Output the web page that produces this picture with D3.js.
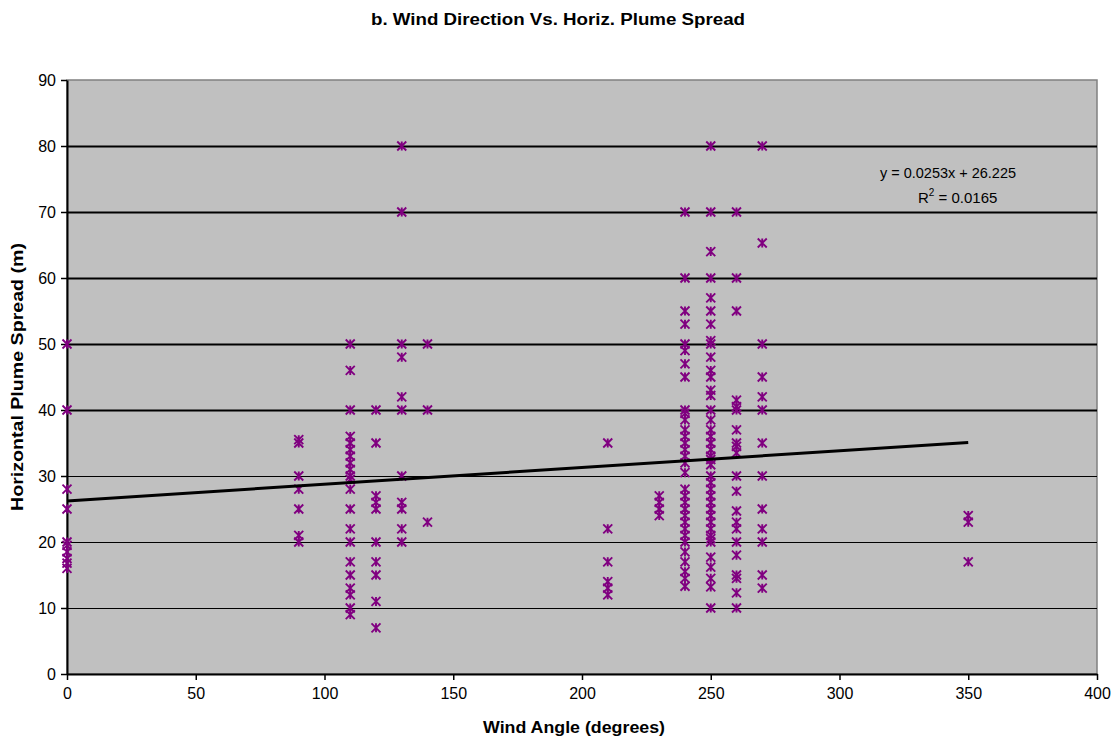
<!DOCTYPE html>
<html>
<head>
<meta charset="utf-8">
<script src="https://cdn.jsdelivr.net/npm/d3@7"></script>
<style>
  html, body { margin: 0; padding: 0; background: #fff; }
  svg { display: block; font-family: "Liberation Sans", Arial, sans-serif; }
</style>
</head>
<body>
<svg id="chart" width="1115" height="743"></svg>
<script>
// Wind angles observed (degrees) and the plume spreads measured at each angle (m)
const windAngles = [0, 90, 110, 120, 130, 140, 210, 230, 240, 250, 260, 270, 350];
const spreadAt0   = [50, 40, 28, 25, 20, 19.5, 18.5, 17.5, 16.8, 16];
const spreadAt90  = [35.5, 35, 30, 28, 25, 21, 20];
const spreadAt110 = [50, 46, 40, 36, 35, 34, 33, 32, 31, 30, 29.5, 28, 25, 22, 20, 17, 15, 13, 12, 10, 9];
const spreadAt120 = [40, 35, 27, 26, 25, 20, 17, 15, 11, 7];
const spreadAt130 = [80, 70, 50, 48, 42, 40, 30, 26, 25, 22, 20];
const spreadAt140 = [50, 40, 23];
const spreadAt210 = [35, 22, 17, 14, 13, 12];
const spreadAt230 = [27, 26, 25, 24];
const spreadAt240 = [70, 60, 55, 53, 50, 49, 47, 45, 40, 39.5, 38.5, 37, 36, 35, 34, 33, 32, 30.5,
                     28, 27, 26, 25, 24, 23, 22, 21, 20, 18.5, 17, 15.5, 14.5, 13.3];
const spreadAt250 = [80, 70, 64, 60, 57, 55, 53, 50.5, 50, 48, 46, 45, 43, 42.2, 40, 38.5, 37, 36,
                     35, 34, 33, 32.5, 31.7, 30, 29, 28, 27, 26, 25, 24, 23, 22, 21, 20.5, 20,
                     17.7, 16.2, 14.5, 13.2, 10];
const spreadAt260 = [70, 60, 55, 41.5, 40.5, 40, 37, 35, 34.5, 33.5, 30, 27.7, 24.7, 23, 22, 20, 18, 15, 14.5, 12.3, 10];
const spreadAt270 = [80, 65.3, 50, 45, 42, 40, 35, 30, 25, 22, 20, 15, 13];
const spreadAt350 = [24, 23, 17];
const spreadByAngle = [spreadAt0, spreadAt90, spreadAt110, spreadAt120, spreadAt130, spreadAt140,
                       spreadAt210, spreadAt230, spreadAt240, spreadAt250, spreadAt260, spreadAt270, spreadAt350];

// Linear trend as reported by the fit
const trendSlope = 0.0253;
const trendIntercept = 26.225;
const trendR2 = "0.0165";
const trendRange = [0, 350];

const xTicks = [0, 50, 100, 150, 200, 250, 300, 350, 400];
const yTicks = [0, 10, 20, 30, 40, 50, 60, 70, 80, 90];

const svg = d3.select("#chart");
const plot = { left: 67, right: 1097, top: 80, bottom: 674 };

const x = d3.scaleLinear().domain([0, 400]).range([plot.left, plot.right]);
const y = d3.scaleLinear().domain([0, 90]).range([plot.bottom, plot.top]);

// Plot area background
svg.append("rect")
  .attr("x", plot.left).attr("y", plot.top)
  .attr("width", plot.right - plot.left).attr("height", plot.bottom - plot.top)
  .attr("fill", "#c0c0c0")
  .attr("stroke", "#808080").attr("stroke-width", 1.5);

// Horizontal gridlines
svg.append("g").selectAll("line")
  .data(yTicks.filter(d => d > 0 && d < 90))
  .join("line")
  .attr("x1", plot.left).attr("x2", plot.right)
  .attr("y1", d => Math.round(y(d)) + 0.5).attr("y2", d => Math.round(y(d)) + 0.5)
  .attr("stroke", "#000")
  .attr("stroke-width", d => d >= 40 ? 2 : 1);

// Axes
const yAxis = svg.append("g")
  .attr("transform", `translate(${plot.left},0)`)
  .call(d3.axisLeft(y).tickValues(yTicks).tickSize(6).tickSizeOuter(0).tickPadding(5));
const xAxis = svg.append("g")
  .attr("transform", `translate(0,${plot.bottom})`)
  .call(d3.axisBottom(x).tickValues(xTicks).tickSize(6).tickSizeOuter(0).tickPadding(8));
[yAxis, xAxis].forEach(g => {
  g.select(".domain").attr("stroke", "#000").attr("stroke-width", 2);
  g.selectAll(".tick line").attr("stroke", "#000").attr("stroke-width", 1.5);
  g.selectAll(".tick text").attr("fill", "#000")
    .style("font-family", "'Liberation Sans', Arial, sans-serif").style("font-size", "16px");
});

// Scatter points: asterisk markers
const points = windAngles.flatMap((a, i) => spreadByAngle[i].map(v => ({ a, v })));
const r = 4.5;
const starPath = `M${-r},${-r}L${r},${r}M${-r},${r}L${r},${-r}M0,${-r}L0,${r}`;
svg.append("g").selectAll("path")
  .data(points)
  .join("path")
  .attr("transform", d => `translate(${x(d.a)},${y(d.v)})`)
  .attr("d", starPath)
  .attr("fill", "none")
  .attr("stroke", "#800080")
  .attr("stroke-width", 1.9);

// Trend line
svg.append("line")
  .attr("x1", x(trendRange[0])).attr("y1", y(trendSlope * trendRange[0] + trendIntercept))
  .attr("x2", x(trendRange[1])).attr("y2", y(trendSlope * trendRange[1] + trendIntercept))
  .attr("stroke", "#000").attr("stroke-width", 3);

// Trend equation
const eq = svg.append("g").style("font-size", "15px").attr("fill", "#000");
eq.append("text").attr("x", 880).attr("y", 178)
  .attr("textLength", 136).attr("lengthAdjust", "spacingAndGlyphs")
  .text(`y = ${trendSlope}x + ${trendIntercept}`);
const r2 = eq.append("text").attr("x", 918).attr("y", 203);
r2.append("tspan").text("R");
r2.append("tspan").attr("dy", -7).style("font-size", "10px").text("2");
r2.append("tspan").attr("dy", 7).text(` = ${trendR2}`);

// Titles
svg.append("text").attr("x", 558).attr("y", 25).attr("text-anchor", "middle")
  .style("font-size", "16px").style("font-weight", "bold")
  .attr("textLength", 374).attr("lengthAdjust", "spacingAndGlyphs")
  .text("b. Wind Direction Vs. Horiz. Plume Spread");
svg.append("text").attr("x", 574).attr("y", 733).attr("text-anchor", "middle")
  .style("font-size", "16px").style("font-weight", "bold")
  .attr("textLength", 182).attr("lengthAdjust", "spacingAndGlyphs")
  .text("Wind Angle (degrees)");
svg.append("text")
  .attr("transform", `translate(23,${(plot.top + plot.bottom) / 2}) rotate(-90)`)
  .attr("text-anchor", "middle")
  .style("font-size", "16px").style("font-weight", "bold")
  .attr("textLength", 268).attr("lengthAdjust", "spacingAndGlyphs")
  .text("Horizontal Plume Spread (m)");
</script>
</body>
</html>
